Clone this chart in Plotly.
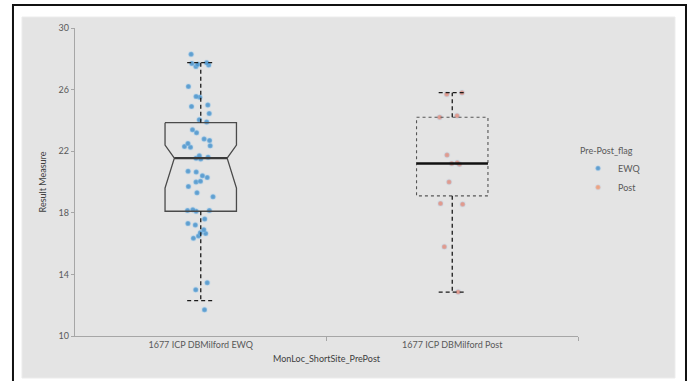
import plotly.graph_objects as go

# Category labels and positions
categories = ["1677 ICP DBMilford EWQ", "1677 ICP DBMilford Post"]
cat_pos = [0, 1]

# Result measure samples per group
ewq_values = [28.3, 27.6, 27.75, 27.7, 27.65, 27.5, 26.2, 25.5, 25.55, 25.0,
              24.9, 24.45, 24.05, 23.9, 23.4, 23.2, 22.8, 22.7, 22.5, 22.35,
              22.25, 22.3, 21.7, 21.6, 21.55, 21.5, 20.7, 20.65, 20.4, 20.3,
              20.05, 20.0, 19.7, 19.3, 19.05, 18.2, 18.15, 18.15, 18.1, 17.6,
              17.3, 17.2, 16.9, 16.7, 16.65, 16.5, 16.35, 13.45, 13.0, 11.7]
post_values = [25.8, 25.7, 24.3, 24.2, 21.75, 21.25, 21.2, 21.15, 20.0,
               18.6, 18.55, 15.8, 12.85]

# Box summary statistics: [EWQ, Post]
q1 = [18.1, 19.1]
median = [21.55, 21.2]
q3 = [23.85, 24.2]
lower_whisker = [12.3, 12.85]
upper_whisker = [27.75, 25.8]
notch_hi = [22.4, None]
notch_lo = [19.6, None]

y_ticks = [10, 14, 18, 22, 26, 30]

EWQ_COLOR = "#3f8fcc"
POST_COLOR = "#e06a55"
FONT = "Lato"

fig = go.Figure()

BOX_HW = 0.142
NOTCH_HW = 0.105
CAP_HW = 0.054

# Jittered sample points
for vals, pos, col, op in [(ewq_values, cat_pos[0], EWQ_COLOR, 0.8),
                           (post_values, cat_pos[1], POST_COLOR, 0.6)]:
    fig.add_trace(go.Box(
        x=[pos] * len(vals), y=vals, width=0.26,
        boxpoints="all", jitter=0.55, pointpos=0,
        fillcolor="rgba(0,0,0,0)", line=dict(width=0, color="rgba(0,0,0,0)"),
        whiskerwidth=0,
        marker=dict(color=col, size=5, opacity=op,
                    line=dict(width=1.5, color="rgba(160,205,240,0.35)")),
        showlegend=False, hoverinfo="y",
    ))

# EWQ notched box outline
c = cat_pos[0]
fig.add_trace(go.Scatter(
    x=[c - BOX_HW, c + BOX_HW, c + BOX_HW, c + NOTCH_HW, c + BOX_HW, c + BOX_HW,
       c - BOX_HW, c - BOX_HW, c - NOTCH_HW, c - BOX_HW, c - BOX_HW],
    y=[q3[0], q3[0], notch_hi[0], median[0], notch_lo[0], q1[0],
       q1[0], notch_lo[0], median[0], notch_hi[0], q3[0]],
    mode="lines", line=dict(color="#4a4a4a", width=1.3),
    showlegend=False, hoverinfo="skip",
))
fig.add_trace(go.Scatter(
    x=[c - NOTCH_HW, c + NOTCH_HW], y=[median[0], median[0]],
    mode="lines", line=dict(color="#3a3a3a", width=2.2),
    showlegend=False, hoverinfo="skip",
))

# Post box outline (dotted) and median
c = cat_pos[1]
fig.add_trace(go.Scatter(
    x=[c - BOX_HW, c + BOX_HW, c + BOX_HW, c - BOX_HW, c - BOX_HW],
    y=[q3[1], q3[1], q1[1], q1[1], q3[1]],
    mode="lines", line=dict(color="#555555", width=1.1, dash="dot"),
    showlegend=False, hoverinfo="skip",
))
fig.add_trace(go.Scatter(
    x=[c - BOX_HW, c + BOX_HW], y=[median[1], median[1]],
    mode="lines", line=dict(color="#111111", width=2.5),
    showlegend=False, hoverinfo="skip",
))

# Whiskers and caps (dashed)
for i, c in enumerate(cat_pos):
    fig.add_trace(go.Scatter(
        x=[c, c, None, c, c, None,
           c - CAP_HW, c + CAP_HW, None, c - CAP_HW, c + CAP_HW],
        y=[q3[i], upper_whisker[i], None, q1[i], lower_whisker[i], None,
           upper_whisker[i], upper_whisker[i], None,
           lower_whisker[i], lower_whisker[i]],
        mode="lines", line=dict(color="#1a1a1a", width=1.3, dash="4px,3px"),
        showlegend=False, hoverinfo="skip",
    ))

# Legend entries
for name, col in [("EWQ", EWQ_COLOR), ("Post", "#f0936a")]:
    fig.add_trace(go.Scatter(
        x=[None], y=[None], mode="markers", name=name,
        marker=dict(color=col, size=5, opacity=0.8,
                    line=dict(width=1.5, color="rgba(200,220,240,0.4)")),
    ))

# Background panel and outer frame
fig.add_shape(type="rect", xref="paper", yref="paper",
              x0=-0.1054, x1=1.1928, y0=-0.1364, y1=1.0357,
              fillcolor="#e4e4e4", line=dict(color="#ececec", width=1),
              layer="below")
fig.add_shape(type="rect", xref="paper", yref="paper",
              x0=-0.1233, x1=1.2147, y0=-0.20, y1=1.0747,
              fillcolor="rgba(0,0,0,0)", line=dict(color="#111111", width=2),
              layer="below")

fig.update_layout(
    width=688, height=381,
    margin=dict(l=75, r=110, t=28, b=45),
    paper_bgcolor="white", plot_bgcolor="rgba(0,0,0,0)",
    font=dict(family=FONT, size=9, color="#595959"),
    legend=dict(
        title=dict(text="Pre-Post_flag", font=dict(size=9, color="#595959")),
        x=1.0, y=0.63, xanchor="left", yanchor="top",
        bgcolor="rgba(0,0,0,0)", font=dict(size=9, color="#595959"),
        itemwidth=30, tracegroupgap=0,
    ),
    xaxis=dict(
        range=[-0.5, 1.5], tickvals=cat_pos, ticktext=categories,
        showline=True, linecolor="#a6a6a6", linewidth=1.3,
        ticks="", showgrid=False, zeroline=False,
        minor=dict(tickvals=[0.5, 1.5], ticks="outside", ticklen=4,
                   tickcolor="#a6a6a6", showgrid=False),
        title=dict(text="MonLoc_ShortSite_PrePost", standoff=6,
                   font=dict(size=9, color="#404040")),
        tickfont=dict(size=9, color="#595959"),
    ),
    yaxis=dict(
        range=[10, 30], tickvals=y_ticks,
        showline=True, linecolor="#a6a6a6", linewidth=1.3,
        ticks="outside", ticklen=3, tickcolor="#a6a6a6",
        showgrid=False, zeroline=False,
        title=dict(text="Result Measure", standoff=10,
                   font=dict(size=9, color="#404040")),
        tickfont=dict(size=9, color="#595959"),
    ),
)

fig.write_html("out.html")
